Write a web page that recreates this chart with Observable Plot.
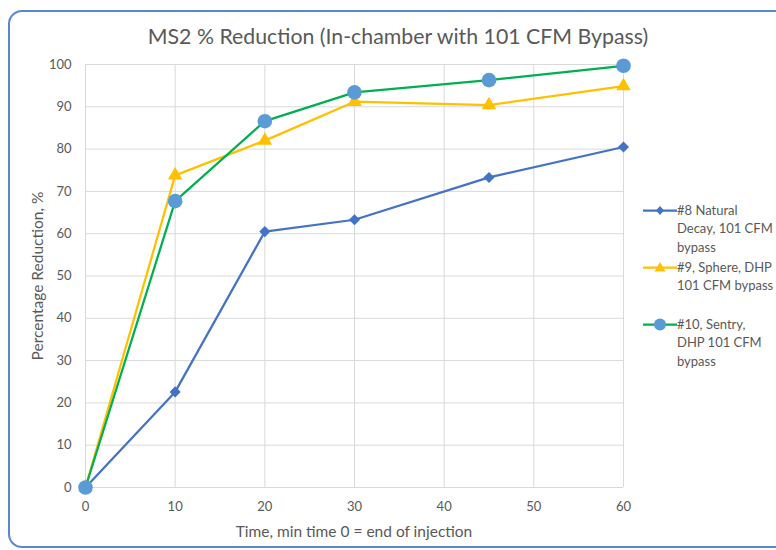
<!DOCTYPE html>
<html><head><meta charset="utf-8">
<script src="https://cdn.jsdelivr.net/npm/d3@7"></script>
<script src="https://cdn.jsdelivr.net/npm/@observablehq/plot@0.6"></script>
<style>
html,body{margin:0;padding:0;background:#fff;overflow:hidden;}
#wrap{position:relative;width:776px;height:550px;overflow:hidden;font-family:Lato,"Open Sans",sans-serif;color:#595959;}
#border{position:absolute;left:8px;top:10px;width:820px;height:538px;border:2px solid #5b87d0;border-radius:14px;box-sizing:border-box;}
#chart{position:absolute;left:0;top:0;}
#title{position:absolute;left:0;width:796px;top:23px;text-align:center;font-size:21.3px;color:#595959;white-space:nowrap;}
#xlabel{position:absolute;left:85px;width:538px;top:522px;text-align:center;font-size:15.5px;white-space:nowrap;}
#ylabel{position:absolute;left:37px;top:276px;transform:translate(-50%,-50%) rotate(-90deg);font-size:15.5px;white-space:nowrap;}
.leg{position:absolute;left:643px;font-size:13px;line-height:18.4px;white-space:nowrap;}
.leg svg{position:absolute;left:0;top:0;}
.leg span{display:block;margin-left:34px;}
</style></head>
<body><div id="wrap">
<div id="border"></div>
<div id="chart"></div>
<div id="title">MS2 % Reduction (In-chamber with 101 CFM Bypass)</div>
<div id="ylabel">Percentage Reduction, %</div>
<div id="xlabel">Time, min time 0 = end of injection</div>
<div id="legend"></div>
</div>
<script>
const times = [0, 10, 20, 30, 45, 60];
const naturalDecay = [0, 22.6, 60.5, 63.3, 73.3, 80.5];
const sphereDHP = [0, 73.8, 82.0, 91.2, 90.4, 94.9];
const sentryDHP = [0, 67.7, 86.6, 93.4, 96.3, 99.7];
const seriesNames = ["#8 Natural Decay, 101 CFM bypass", "#9, Sphere, DHP 101 CFM bypass", "#10, Sentry, DHP 101 CFM bypass"];
const legendLines = [["#8 Natural", "Decay, 101 CFM", "bypass"], ["#9, Sphere, DHP", "101 CFM bypass"], ["#10, Sentry,", "DHP 101 CFM", "bypass"]];
const xTicks = [0, 10, 20, 30, 40, 50, 60];
const yTicks = [0, 10, 20, 30, 40, 50, 60, 70, 80, 90, 100];

const styles = [
  {line: "#4472c4", fill: "#4472c4", symbol: "diamond2", r: 5},
  {line: "#ffc000", fill: "#ffc000", symbol: "triangle", r: 5.4},
  {line: "#00b050", fill: "#5b9bd5", symbol: "circle", r: 7.3}
];
const seriesValues = [naturalDecay, sphereDHP, sentryDHP];
const data = seriesValues.map((vals, i) => times.map((t, j) => ({time: t, value: vals[j], series: seriesNames[i]})));

const marks = [
  Plot.gridY(yTicks, {stroke: "#d9d9d9", strokeOpacity: 1, strokeWidth: 1}),
  Plot.gridX(xTicks, {stroke: "#d9d9d9", strokeOpacity: 1, strokeWidth: 1}),
  Plot.axisX(xTicks, {tickSize: 0, tickPadding: 14, label: null, fontSize: 13}),
  Plot.axisY(yTicks, {tickSize: 0, tickPadding: 14, label: null, fontSize: 13})
];
data.forEach((d, i) => {
  marks.push(Plot.line(d, {x: "time", y: "value", stroke: styles[i].line, strokeWidth: 2.25}));
  marks.push(Plot.dot(d, {x: "time", y: "value", symbol: styles[i].symbol, r: styles[i].r, fill: styles[i].fill, stroke: "none"}));
});

const chart = Plot.plot({
  width: 776, height: 550,
  marginLeft: 85, marginRight: 153, marginTop: 64, marginBottom: 63,
  x: {domain: [0, 60]},
  y: {domain: [0, 100]},
  style: {fontFamily: "Lato, 'Open Sans', sans-serif", fontSize: "13px", color: "#595959", background: "transparent", overflow: "visible"},
  marks
});
document.getElementById("chart").appendChild(chart);

const legTops = [201, 258, 315];
const legend = document.getElementById("legend");
legendLines.forEach((lines, i) => {
  const div = document.createElement("div");
  div.className = "leg";
  div.style.top = legTops[i] + "px";
  const s = styles[i];
  let marker;
  if (s.symbol === "diamond2") marker = `<path d="M17 5 L21 9.5 L17 14 L13 9.5 Z" fill="${s.fill}"/>`;
  else if (s.symbol === "triangle") marker = `<path d="M17 4 L22.5 13.5 L11.5 13.5 Z" fill="${s.fill}"/>`;
  else marker = `<circle cx="17" cy="9.5" r="6" fill="${s.fill}"/>`;
  div.innerHTML = `<svg width="36" height="19"><line x1="0" x2="34" y1="9.5" y2="9.5" stroke="${s.line}" stroke-width="2.25"/>${marker}</svg>` +
    lines.map(l => `<span>${l}</span>`).join("");
  legend.appendChild(div);
});
</script>
</body></html>
